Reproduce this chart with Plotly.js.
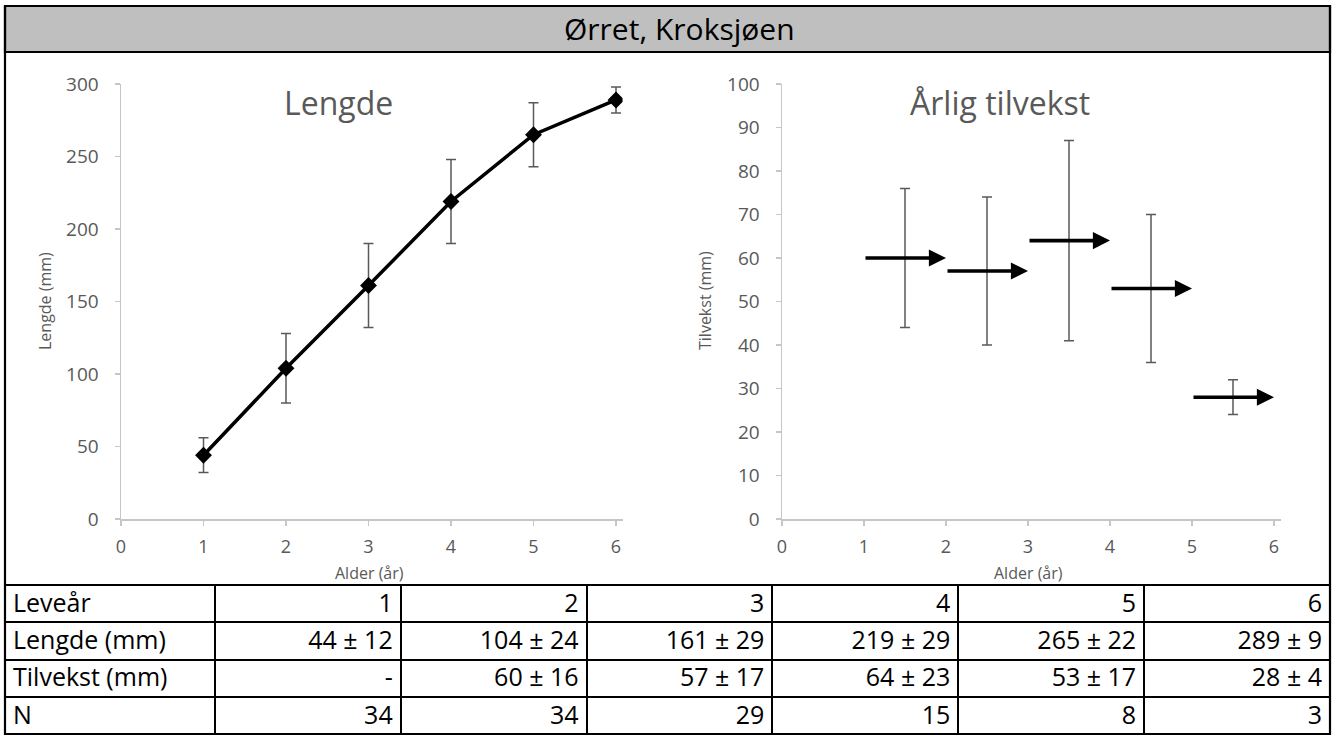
<!DOCTYPE html>
<html>
<head>
<meta charset="utf-8">
<script src="https://cdn.plot.ly/plotly-3.0.1.min.js"></script>
<style>html,body{margin:0;padding:0;background:#fff;}#chart{width:1336px;height:735px;}</style>
</head>
<body>
<div id="chart"></div>
<script>
// ---- data ----
const ages = [1, 2, 3, 4, 5, 6];
const lengthMean = [44, 104, 161, 219, 265, 289];
const lengthSd = [12, 24, 29, 29, 22, 9];
const growthMean = [null, 60, 57, 64, 53, 28];
const growthSd = [null, 16, 17, 23, 17, 4];
const nFish = [34, 34, 29, 15, 8, 3];
const rowLabels = ['Leveår', 'Lengde (mm)', 'Tilvekst (mm)', 'N'];
const mainTitle = 'Ørret, Kroksjøen';
const leftTitle = 'Lengde';
const rightTitle = 'Årlig tilvekst';
const leftYTitle = 'Lengde (mm)';
const rightYTitle = 'Tilvekst (mm)';
const xTitle = 'Alder (år)';

// ---- layout helpers ----
const W = 1336, H = 735;
const PX = p => p / W;
const PY = p => 1 - p / H;
const FONT = '"Open Sans", "DejaVu Sans", sans-serif';
const GREY = '#595959';
const AXC = '#c6c6c6';

// ---- traces ----
const lengthTrace = {
  type: 'scatter', mode: 'lines+markers',
  x: ages, y: lengthMean,
  xaxis: 'x', yaxis: 'y',
  line: {color: '#000', width: 3.5},
  marker: {symbol: 'diamond', size: 13, color: '#000'},
  error_y: {type: 'data', array: lengthSd, visible: true, color: GREY, thickness: 1.5, width: 5},
  showlegend: false, hoverinfo: 'x+y'
};

const gx = [], gy = [], gs = [];
for (let i = 0; i < ages.length; i++) {
  if (growthMean[i] !== null) { gx.push(ages[i] - 0.5); gy.push(growthMean[i]); gs.push(growthSd[i]); }
}
const growthTrace = {
  type: 'scatter', mode: 'markers',
  x: gx, y: gy, xaxis: 'x2', yaxis: 'y2',
  marker: {size: 2, color: 'rgba(0,0,0,0)'},
  error_y: {type: 'data', array: gs, visible: true, color: GREY, thickness: 1.5, width: 5},
  showlegend: false, hoverinfo: 'y'
};

// table
const colVals = [rowLabels.slice(1)];
for (let i = 0; i < ages.length; i++) {
  colVals.push([
    lengthMean[i] + ' ± ' + lengthSd[i],
    growthMean[i] === null ? '-' : growthMean[i] + ' ± ' + growthSd[i],
    String(nFish[i])
  ]);
}
const ALIGN = ['left', 'right', 'right', 'right', 'right', 'right', 'right'];
const tableTrace = {
  type: 'table',
  domain: {x: [PX(5), PX(1330)], y: [0, PY(585)]},
  columnwidth: [210, 186, 186, 186, 186, 186, 186],
  header: {
    values: [rowLabels[0]].concat(ages.map(String)),
    align: ALIGN, height: 37.3,
    font: {family: FONT, size: 25, color: '#000'},
    line: {color: '#000', width: 2},
    fill: {color: '#fff'}
  },
  cells: {
    values: colVals,
    align: ALIGN, height: 37.3,
    font: {family: FONT, size: 25, color: '#000'},
    line: {color: '#000', width: 2},
    fill: {color: '#fff'}
  }
};

// ---- axes ----
const yTop = 84, yBot = 519;
function xAxis(start, pxPerUnit, anchor) {
  const r1 = 6.08;
  return {
    domain: [PX(start), PX(start + r1 * pxPerUnit)], range: [0, r1], anchor: anchor,
    tickmode: 'array', tickvals: [0, 1, 2, 3, 4, 5, 6],
    showgrid: false, zeroline: false, showline: true, linecolor: AXC, linewidth: 1.5,
    ticks: 'outside', ticklen: 5, tickcolor: AXC, tickwidth: 1.5,
    tickfont: {family: FONT, size: 18, color: GREY}, ticklabelstandoff: 6,
    fixedrange: true
  };
}
function yAxis(maxV, dt, anchor) {
  return {
    domain: [PY(yBot), PY(yTop)], range: [0, maxV], anchor: anchor, dtick: dt,
    showgrid: false, zeroline: false, showline: true, linecolor: AXC, linewidth: 1.5,
    ticks: 'outside', ticklen: 5, tickcolor: AXC, tickwidth: 1.5,
    tickfont: {family: FONT, size: 19, color: GREY}, ticklabelstandoff: 12,
    fixedrange: true
  };
}

// arrows for annual growth (tail at previous age, head at current age)
const arrows = [];
for (let i = 0; i < ages.length; i++) {
  if (growthMean[i] === null) continue;
  arrows.push({
    xref: 'x2', yref: 'y2', axref: 'x2', ayref: 'y2',
    x: ages[i], y: growthMean[i], ax: ages[i] - 1, ay: growthMean[i],
    text: '', showarrow: true, arrowhead: 2, arrowsize: 0.95, arrowwidth: 3.6,
    arrowcolor: '#000', standoff: 0, startstandoff: 0
  });
}

const textAnn = [
  {text: mainTitle, x: PX(679), y: PY(29), font: {family: FONT, size: 30, color: '#000'}},
  {text: leftTitle, x: PX(338), y: PY(103), font: {family: FONT, size: 32, color: GREY}},
  {text: rightTitle, x: PX(1000), y: PY(103), font: {family: FONT, size: 32, color: GREY}},
  {text: leftYTitle, x: PX(45), y: PY(301), textangle: -90, font: {family: FONT, size: 16, color: GREY}},
  {text: rightYTitle, x: PX(705), y: PY(301), textangle: -90, font: {family: FONT, size: 16, color: GREY}},
  {text: xTitle, x: PX(369), y: PY(573), font: {family: FONT, size: 16, color: GREY}},
  {text: xTitle, x: PX(1028), y: PY(573), font: {family: FONT, size: 16, color: GREY}}
].map(a => Object.assign({xref: 'paper', yref: 'paper', xanchor: 'center', yanchor: 'middle', showarrow: false}, a));

const layout = {
  width: W, height: H,
  margin: {l: 0, r: 0, t: 0, b: 0},
  paper_bgcolor: '#fff', plot_bgcolor: 'rgba(0,0,0,0)',
  showlegend: false,
  font: {family: FONT},
  xaxis: xAxis(121, 82.5, 'y'),
  yaxis: yAxis(300, 50, 'x'),
  xaxis2: xAxis(782, 82, 'y2'),
  yaxis2: yAxis(100, 10, 'x2'),
  shapes: [
    {type: 'rect', xref: 'paper', yref: 'paper', x0: PX(5), x1: PX(1330), y0: -0.05, y1: PY(6),
     line: {color: '#000', width: 2.2}, fillcolor: 'rgba(0,0,0,0)', layer: 'above'},
    {type: 'rect', xref: 'paper', yref: 'paper', x0: PX(5), x1: PX(1330), y0: PY(52), y1: PY(6),
     line: {color: '#000', width: 2.2}, fillcolor: '#bfbfbf', layer: 'below'}
  ],
  annotations: textAnn.concat(arrows)
};

Plotly.newPlot('chart', [lengthTrace, growthTrace, tableTrace], layout, {displayModeBar: false, staticPlot: true});
</script>
</body>
</html>
